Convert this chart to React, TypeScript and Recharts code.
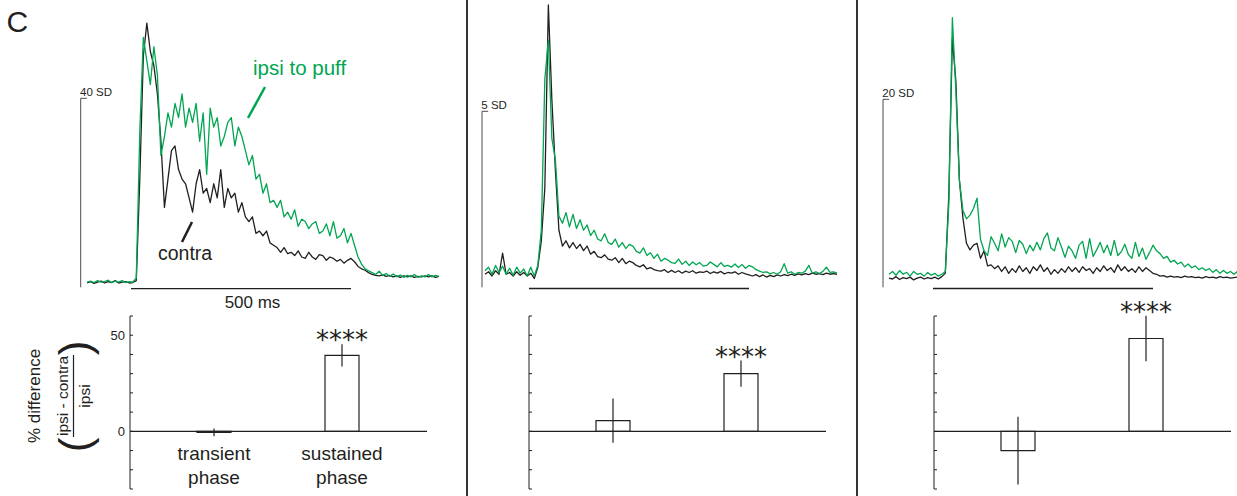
import React from "react";
import {
  LineChart,
  Line,
  XAxis,
  YAxis,
  ReferenceLine,
  BarChart,
  Bar,
  ErrorBar,
  LabelList,
  Customized,
} from "recharts";

const GREEN = "#00A651";
const INK = "#231F20";
const FONT = "'Liberation Sans', Arial, sans-serif";

// traces: -100 ms .. 700 ms, 8 ms bins (values in SD above baseline)
const T_START = -100;
const T_STEP = 8;

const p1Ipsi = [
  0.2, 0.4, 0.1, 0.5, 0.2, 0.3, 0.6, 0.1, 0.4, 0.2,
  0.5, 0.1, 0.3, 0.2, 1, 32, 52, 47, 42, 50,
  44, 27, 31, 36, 33, 38, 35, 40, 33, 37,
  34, 38, 30, 36, 23, 37, 33, 35, 29, 31,
  34, 35, 29, 33, 31, 28, 25, 27, 22, 23,
  19, 21, 17, 17.5, 16, 17.5, 14, 15, 13.5, 15.5,
  12, 13.5, 13, 11.5, 12.5, 13, 10.5, 11, 12.5, 10,
  13, 9.5, 10, 11.5, 8.5, 10.5, 8, 5.5, 4, 3,
  2.6, 2.2, 1.8, 2.5, 1.6, 2, 1.4, 1.9, 1.3, 1.7,
  1.2, 1.6, 1.3, 1.8, 1.2, 1.5, 1.3, 1.8, 1.3, 1.6,
  1.4,
];
const p1Contra = [
  0, 0.3, -0.1, 0.2, 0.4, 0, 0.3, 0.1, 0.5, 0,
  0.2, 0.3, 0, 0.1, 0.5, 22, 48, 55, 49, 46,
  40, 30, 16, 22, 28, 29, 24, 22, 21, 18,
  15, 21, 24, 19, 20, 17, 21, 18, 24, 16,
  20, 18, 19, 15, 17, 14, 13, 14, 10.5, 11,
  10, 11, 8.5, 8, 7.5, 6.5, 7.5, 6.2, 6.5, 5.8,
  6.8, 5.5, 5.2, 6.5, 5.5, 5, 6, 5.8, 4.8, 5.5,
  5.2, 4.6, 5, 4.2, 4.8, 5.2, 4.5, 3.5, 3, 2.7,
  2.2, 1.8, 1.6, 1.5, 1.7, 1.4, 1.6, 1.3, 1.5, 1.2,
  1.5, 1.3, 1.5, 1.2, 1.4, 1.3, 1.5, 1.3, 1.5, 1.2,
  1.4,
];

const p2Ipsi = [
  0.15, 0.25, 0.05, 0.3, 0.1, 0.28, 0.05, 0.22, 0.02, 0.25,
  0.08, 0.2, 0, 0.25, 0, 0.3, 1.3, 5.6, 6.7, 3.9,
  3.3, 1.7, 1.5, 1.8, 1.4, 1.75, 1.35, 1.6, 1.3, 1.45,
  1.15, 1.3, 1.05, 1.0, 1.2, 0.95, 0.9, 1.05, 0.82, 0.95,
  0.78, 0.9, 0.85, 0.7, 0.65, 0.8, 0.58, 0.66, 0.5, 0.62,
  0.42, 0.5, 0.45, 0.38, 0.36, 0.48, 0.33, 0.42, 0.3, 0.4,
  0.32, 0.38, 0.28, 0.3, 0.4, 0.33, 0.26, 0.38, 0.27, 0.3,
  0.25, 0.34, 0.24, 0.33, 0.22, 0.3, 0.26, 0.18, 0.14, 0.1,
  0.12, 0.06, 0.1, 0.05, 0.12, 0.35, 0.08, 0.12, 0.05, 0.1,
  0.08, 0.14, 0.3, 0.08, 0.12, 0.07, 0.13, 0.25, 0.1, 0.12,
  0.08,
];
const p2Contra = [
  0.05, 0.12, 0, 0.15, 0.05, 0.65, 0.05, 0.1, 0, 0.12,
  0.02, 0.1, 0, 0.08, -0.07, 0.25, 1.0, 2.5, 7.7, 5.0,
  3.0, 1.3, 0.85, 1.0, 0.8, 0.95, 0.78, 0.9, 0.72, 0.85,
  0.62, 0.7, 0.55, 0.52, 0.6, 0.48, 0.45, 0.52, 0.38, 0.5,
  0.35, 0.42, 0.38, 0.3, 0.26, 0.32, 0.2, 0.24, 0.18, 0.15,
  0.14, 0.18, 0.1, 0.16, 0.1, 0.15, 0.08, 0.14, 0.1, 0.15,
  0.08, 0.12, 0.1, 0.14, 0.07, 0.12, 0.08, 0.13, 0.06, 0.1,
  0.08, 0.12, 0.05, 0.1, 0.06, 0.03, 0, 0.04, -0.02, 0.03,
  -0.03, 0.02, -0.02, 0.03, 0, 0.04, 0.01, 0.05, 0.02, 0.06,
  0.03, 0.07, 0.04, 0.08, 0.05, 0.07, 0.04, 0.08, 0.05, 0.07,
  0.05,
];

const p3Ipsi = [
  0.5, 0.8, 0.4, 0.9, 0.5, 0.7, 0.3, 0.8, 0.5, 0.6,
  0.3, 0.7, 0.4, 0.6, 0.3, 0.5, 0.8, 8, 27.8, 20,
  10.5, 7.3, 6.4, 6.8, 7.5, 8.6, 4.2, 3.0, 2.5, 4.5,
  3.8, 3.0, 4.8, 3.4, 4.4, 4.0, 2.8, 4.1, 3.7, 2.7,
  3.6, 3.0, 3.9, 3.1, 4.3, 4.9, 3.3, 3.0, 4.4, 3.4,
  2.3, 3.5, 3.0, 2.2, 3.6, 4.0, 2.2, 4.3, 2.4, 3.1,
  3.9, 2.8, 3.6, 2.5, 4.1, 2.5, 2.9, 3.7, 2.6, 2.2,
  3.9, 2.4, 3.3, 2.1, 2.8, 3.6, 3.0, 2.7, 2.2, 2.4,
  1.8, 2.0, 1.6, 1.8, 1.3, 1.6, 1.2, 1.4, 1.0, 1.2,
  0.9, 1.1, 0.7, 1.0, 0.6, 0.9, 0.6, 0.8, 0.5, 0.8,
  0.6,
];
const p3Contra = [
  0.1, 0, 0.25, -0.05, 0.15, 0.05, 0.2, -0.1, 0.1, 0.2,
  0, 0.15, 0.05, 0.2, 0, 0.25, 0.6, 9, 25.6, 21,
  10.5, 6.5, 3.8, 3.1, 3.6, 3.8, 2.2, 3.0, 1.4, 1.5,
  1.1, 1.4, 0.8, 1.3, 0.6, 1.1, 0.7, 1.4, 0.8, 1.2,
  0.6, 1.3, 0.9, 1.5, 0.8, 1.2, 0.5, 1.0, 0.6, 1.1,
  0.7, 1.3, 0.8, 1.2, 0.7, 1.3, 0.9, 1.1, 0.6, 1.2,
  0.8, 1.4, 0.9, 1.2, 0.7, 1.5, 0.9, 1.3, 0.8, 1.1,
  0.7, 1.3, 0.8, 1.2, 0.9, 0.6, 0.5, 0.3, 0.35, 0.2,
  0.3, 0.2, 0.25, 0.15, 0.3, 0.2, 0.25, 0.15, 0.2, 0.1,
  0.25, 0.15, 0.2, 0.1, 0.25, 0.15, 0.2, 0.1, 0.15, 0.2,
  0.1,
];

const scaleSD = [40, 5, 20];
const scaleMs = 500;

// % difference (ipsi - contra) / ipsi, mean and error
const phases = ["transient phase", "sustained phase"];
const p1Diff = [-0.5, 39.5];
const p1Err = [2, 5.8];
const p2Diff = [5.6, 30];
const p2Err = [11.5, 6.8];
const p3Diff = [-10, 48.3];
const p3Err = [17.6, 11.8];
const sigLabels = ["", "****"];
const diffTicks = [-30, -20, -10, 0, 10, 20, 30, 40, 50, 60];
const diffTickLabels = [0, 50];

const MS_PX = 0.44;
const TRACE_H = 315;
const BAR_TOP = 290;
const BAR_H = 206;

const tracePanels = [
  { left: 0, width: 466, zeroX: 131, baseY: 283, sdPx: 4.725, barX: 80.7, barBottom: 287.3, timeBarY: 288.6, ipsi: p1Ipsi, contra: p1Contra, sd: scaleSD[0] },
  { left: 470, width: 385, zeroX: 529, baseY: 276, sdPx: 35.2, barX: 482, barBottom: 287.3, timeBarY: 288.5, ipsi: p2Ipsi, contra: p2Contra, sd: scaleSD[1] },
  { left: 860, width: 377, zeroX: 933, baseY: 279, sdPx: 9.4, barX: 883, barBottom: 287.3, timeBarY: 288.5, ipsi: p3Ipsi, contra: p3Contra, sd: scaleSD[2] },
];

const diffPanels = [
  { left: 0, width: 437, axisW: 130, right: 10, diff: p1Diff, err: p1Err, labels: true },
  { left: 470, width: 366, axisW: 59, right: 10, diff: p2Diff, err: p2Err, labels: false },
  { left: 862, width: 375, axisW: 72, right: 6, diff: p3Diff, err: p3Err, labels: false },
];

function TraceChart({ p, first }: any) {
  const rows = p.ipsi.map((v: number, i: number) => ({
    t: T_START + i * T_STEP,
    ipsi: v,
    contra: p.contra[i],
  }));
  const toT = (x: number) => (x - p.zeroX) / MS_PX;
  const toV = (y: number) => (p.baseY - y) / p.sdPx;
  const tDomain = [toT(p.left), toT(p.left + p.width)];
  const vDomain = [toV(TRACE_H), toV(0)];
  const barT = toT(p.barX);
  const barV0 = toV(p.barBottom);
  const barV1 = barV0 + p.sd;
  const hV = toV(p.timeBarY);
  const ox = p.left;
  const tickY = p.baseY - barV1 * p.sdPx;

  return (
    <LineChart width={p.width} height={TRACE_H} data={rows} margin={{ top: 0, right: 0, bottom: 0, left: 0 }}>
      <XAxis type="number" dataKey="t" domain={tDomain} hide allowDataOverflow />
      <YAxis type="number" domain={vDomain} hide allowDataOverflow />
      <ReferenceLine segment={[{ x: barT, y: barV0 }, { x: barT, y: barV1 }]} stroke="#4d4d4d" strokeWidth={1} ifOverflow="visible" />
      <ReferenceLine segment={[{ x: barT, y: barV1 }, { x: barT + 14, y: barV1 }]} stroke="#4d4d4d" strokeWidth={1} ifOverflow="visible" />
      <ReferenceLine segment={[{ x: 0, y: hV }, { x: scaleMs, y: hV }]} stroke={INK} strokeWidth={1.3} ifOverflow="visible" />
      <Line dataKey="contra" stroke={INK} strokeWidth={1.3} dot={false} activeDot={false} isAnimationActive={false} strokeLinejoin="round" />
      <Line dataKey="ipsi" stroke={GREEN} strokeWidth={1.3} dot={false} activeDot={false} isAnimationActive={false} strokeLinejoin="round" />
      <Customized
        component={() => (
          <g fontFamily={FONT}>
            <text x={p.barX - 0.7 - ox} y={tickY - 2.5} fontSize={11.5} fill={INK}>
              {`${p.sd} SD`}
            </text>
            {first && (
              <g>
                <text x={6.5} y={32} fontSize={30} fill={INK}>C</text>
                <text x={253} y={75} fontSize={20.5} fill={GREEN}>ipsi to puff</text>
                <line x1={265} y1={87} x2={248} y2={118} stroke={GREEN} strokeWidth={2.5} />
                <text x={158} y={260} fontSize={19.5} fill={INK}>contra</text>
                <line x1={192} y1={222} x2={182} y2={242} stroke={INK} strokeWidth={2.5} />
                <text x={252.5} y={308} textAnchor="middle" fontSize={17} fill={INK}>
                  {`${scaleMs} ms`}
                </text>
              </g>
            )}
          </g>
        )}
      />
    </LineChart>
  );
}

function DiffTick(props: any) {
  const { x, y, payload, labels } = props;
  return (
    <g>
      <line x1={x} x2={x + 3} y1={y} y2={y} stroke={INK} strokeWidth={1} />
      {labels && diffTickLabels.includes(payload.value) && (
        <text x={x - 5} y={y} dy="0.35em" textAnchor="end" fontSize={13} fontFamily={FONT} fill={INK}>
          {payload.value}
        </text>
      )}
    </g>
  );
}

function PhaseTick(props: any) {
  const { x, y, payload } = props;
  const [a, b] = String(payload.value).split(" ");
  return (
    <text textAnchor="middle" fontSize={19} fontFamily={FONT} fill={INK}>
      <tspan x={x} y={y - 29}>{a}</tspan>
      <tspan x={x} y={y - 5}>{b}</tspan>
    </text>
  );
}

function Stars(props: any) {
  const { index, value, rows } = props;
  if (!value) return null;
  const vb = props.viewBox || props;
  const x = props.x ?? vb.x;
  const y = props.y ?? vb.y;
  const width = props.width ?? vb.width;
  const height = props.height ?? vb.height;
  const r = rows[index];
  const top = Math.min(y, y + height);
  const unit = Math.abs(height) / Math.abs(r.diff);
  const errTop = top - r.err * unit;
  return (
    <text x={x + width / 2} y={errTop + 5} textAnchor="middle" fontSize={26} fontFamily="'DejaVu Sans', sans-serif" fill={INK}>
      {value}
    </text>
  );
}

// rotated y label, drawn in the first difference chart (origin at page y = BAR_TOP)
const DiffLabel = () => (
  <g transform={`translate(0,${396 - BAR_TOP}) rotate(-90)`} fontFamily={FONT} fill={INK}>
    <text x={0} y={40} textAnchor="middle" fontSize={17}>% difference</text>
    <text x={0} y={68} textAnchor="middle" fontSize={15.5}>ipsi - contra</text>
    <line x1={-41} x2={41} y1={73.5} y2={73.5} stroke={INK} strokeWidth={1.2} />
    <text x={0} y={89.5} textAnchor="middle" fontSize={15.5}>ipsi</text>
    <text x={-49} y={90} textAnchor="middle" fontSize={44}>(</text>
    <text x={48} y={90} textAnchor="middle" fontSize={44}>)</text>
  </g>
);

function DiffChart({ cfg }: any) {
  const rows = phases.map((ph, i) => ({
    phase: ph,
    diff: cfg.diff[i],
    err: cfg.err[i],
    sig: sigLabels[i],
  }));
  return (
    <BarChart width={cfg.width} height={BAR_H} data={rows} margin={{ top: 316 - BAR_TOP, right: cfg.right, bottom: 6, left: 0 }}>
      <XAxis
        dataKey="phase"
        padding={{ left: 20, right: 21 }}
        axisLine={false}
        tickLine={false}
        tickSize={0}
        tickMargin={0}
        height={1}
        interval={0}
        tick={cfg.labels ? (props: any) => <PhaseTick {...props} /> : false}
      />
      <YAxis
        type="number"
        domain={[-30, 60]}
        ticks={diffTicks}
        interval={0}
        width={cfg.axisW}
        axisLine={{ stroke: INK, strokeWidth: 1 }}
        tickLine={false}
        tickSize={0}
        tickMargin={0}
        tick={(props: any) => <DiffTick {...props} labels={cfg.labels} />}
        allowDataOverflow
      />
      <ReferenceLine y={0} stroke={INK} strokeWidth={1.2} />
      <Bar dataKey="diff" barSize={34} fill="#ffffff" stroke={INK} strokeWidth={1.2} isAnimationActive={false}>
        <ErrorBar dataKey="err" width={0} stroke={INK} strokeWidth={1.2} direction="y" />
        <LabelList dataKey="sig" content={(props: any) => <Stars {...props} rows={rows} />} />
      </Bar>
      {cfg.labels && <Customized component={DiffLabel} />}
    </BarChart>
  );
}

export default function App() {
  return (
    <div
      style={{
        position: "fixed",
        left: 0,
        top: 0,
        width: 1237,
        height: 496,
        background: "#ffffff",
        overflow: "hidden",
        fontFamily: FONT,
      }}
    >
      {tracePanels.map((p, i) => (
        <div key={`trace-${i}`} style={{ position: "absolute", left: p.left, top: 0 }}>
          <TraceChart p={p} first={i === 0} />
        </div>
      ))}
      {diffPanels.map((cfg, i) => (
        <div key={`diff-${i}`} style={{ position: "absolute", left: cfg.left, top: BAR_TOP }}>
          <DiffChart cfg={cfg} />
        </div>
      ))}
      <div style={{ position: "absolute", left: 466.2, top: 0, width: 1.6, height: 496, background: "#333" }} />
      <div style={{ position: "absolute", left: 856, top: 0, width: 1.6, height: 496, background: "#333" }} />
    </div>
  );
}
